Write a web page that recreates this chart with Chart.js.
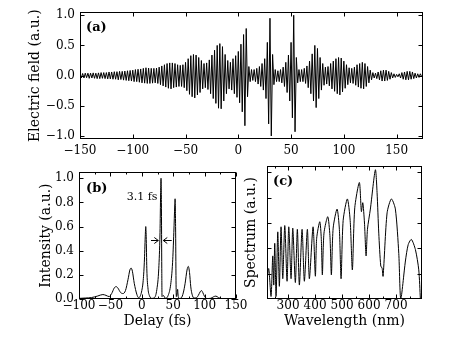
<!DOCTYPE html>
<html><head><meta charset="utf-8">
<script src="https://cdn.jsdelivr.net/npm/chart.js@4.4.1/dist/chart.umd.min.js"></script>
<style>
html,body{margin:0;padding:0;background:#fff;}
body{width:452px;height:339px;position:relative;overflow:hidden;}
canvas{position:absolute;}
</style></head><body>
<canvas id="ca" width="452" height="162" style="left:0;top:0"></canvas>
<canvas id="cb" width="250" height="179" style="left:0;top:160px"></canvas>
<canvas id="cc" width="217" height="179" style="left:235px;top:160px"></canvas>
<script>
// ---------- Panel (a): electric field, one value per half-cycle stroke ----------
const fieldStart = -150;   // fs
const fieldStep = 1.25;    // fs between successive stroke extremes
const fieldValues = [
 0.03,-0.04,0.035,-0.04,0.04,-0.035,0.04,-0.045,0.04,-0.04,0.045,-0.045,0.04,-0.05,0.045,-0.05,0.05,-0.045,0.05,-0.05,
 0.05,-0.055,0.06,-0.055,0.06,-0.06,0.065,-0.06,0.065,-0.07,0.07,-0.065,0.07,-0.075,0.075,-0.08,0.08,-0.085,0.085,-0.09,
 0.09,-0.1,0.1,-0.1,0.105,-0.11,0.11,-0.12,0.12,-0.125,0.13,-0.13,0.125,-0.13,0.12,-0.125,0.12,-0.12,0.125,-0.13,
 0.14,-0.15,0.16,-0.17,0.18,-0.19,0.2,-0.21,0.21,-0.22,0.21,-0.2,0.2,-0.19,0.18,-0.18,0.17,-0.18,0.18,-0.2,
 0.22,-0.25,0.28,-0.31,0.33,-0.35,0.35,-0.37,0.34,-0.32,0.3,-0.28,0.25,-0.22,0.2,-0.2,0.21,-0.23,0.26,-0.3,
 0.34,-0.38,0.42,-0.46,0.5,-0.54,0.53,-0.55,0.48,-0.42,0.35,-0.3,0.25,-0.22,0.22,-0.24,0.28,-0.3,0.33,-0.36,
 0.4,-0.45,0.52,-0.6,0.68,-0.83,0.78,-0.35,0.15,-0.1,0.1,-0.08,0.1,-0.1,0.12,-0.14,0.15,-0.18,0.2,-0.24,
 0.28,-0.38,0.55,-0.8,0.95,-1.0,0.35,-0.15,0.1,-0.1,0.08,-0.1,0.1,-0.12,0.14,-0.18,0.22,-0.28,0.34,-0.42,
 0.55,-0.7,1.0,-0.93,0.3,-0.12,0.1,-0.1,0.1,-0.1,0.12,-0.13,0.16,-0.2,0.24,-0.3,0.36,-0.42,0.5,-0.53,
 0.45,-0.38,0.3,-0.24,0.2,-0.16,0.14,-0.14,0.15,-0.17,0.2,-0.22,0.24,-0.26,0.28,-0.3,0.3,-0.32,0.29,-0.27,
 0.24,-0.21,0.18,-0.15,0.13,-0.12,0.12,-0.13,0.14,-0.16,0.18,-0.19,0.2,-0.21,0.22,-0.22,0.2,-0.18,0.15,-0.12,
 0.09,-0.07,0.05,-0.04,0.04,-0.05,0.06,-0.07,0.08,-0.09,0.09,-0.09,0.09,-0.08,0.07,-0.06,0.05,-0.04,0.03,-0.03,
 0.02,-0.02,0.03,-0.04,0.05,-0.06,0.06,-0.07,0.07,-0.07,0.07,-0.06,0.06,-0.05,0.04,-0.04,0.03,-0.03,0.03,-0.02,
 0.02
];
const fieldXTicks = [-150,-100,-50,0,50,100,150];
const fieldYTicks = [-1.0,-0.5,0.0,0.5,1.0];

// ---------- Panel (b): intensity vs delay ----------
const delayB = [
 -100,-90,-80,-70,-62,-57,-52,-48,-44,-41,
 -38,-34,-30,-26,-22,-19,-17,-15,-12,-8,
 -5,-2,0,2,4,5.5,6.3,7,8,10,
 12,16,20,24,27,29,30,30.6,31.2,31.8,
 32.2,34,38,42,46,49,51,52.5,53,53.8,
 54.5,55,56,57,58,60,63,66,69,72,
 74,76,78,80,83,87,90,93,95,97,
 100,104,110,114,118,122,127,135,150
];
const intensityB = [
 0.005,0.008,0.012,0.025,0.037,0.03,0.02,0.045,0.09,0.103,
 0.09,0.055,0.045,0.07,0.16,0.24,0.256,0.23,0.13,0.04,
 0.01,0.03,0.07,0.14,0.3,0.52,0.6,0.52,0.25,0.08,
 0.03,0.005,0.01,0.08,0.25,0.55,0.88,1.0,0.8,0.25,
 0.02,0.03,0.005,0.03,0.12,0.3,0.55,0.78,0.83,0.6,
 0.15,0.02,0.04,0.08,0.02,0.005,0.01,0.05,0.13,0.24,
 0.27,0.22,0.1,0.04,0.008,0.01,0.03,0.06,0.07,0.055,
 0.02,0.004,0.006,0.018,0.024,0.012,0.003,0.002,0.001
];
const delayXTicks = [-100,-50,0,50,100,150];
const delayXMinor = [-75,-25,25,75,125];
const intensityYTicks = [0.0,0.2,0.4,0.6,0.8,1.0];
const fwhmLabel = '3.1 fs';
const fwhmLabelAt = [0.5, 0.84];      // delay, intensity
const fwhmArrowY = 0.49;
const fwhmArrowLeft = [14.6, 26.3];   // from, to (fs)
const fwhmArrowRight = [47.6, 34.2];

// ---------- Panel (c): spectrum ----------
const wavelengthC = [
 222,228.5,237,243.3,247,250.7,255.6,261.9,267.8,274,
 280.4,287.8,296.3,302.6,311.1,317.4,327,334.4,341.9,351.9,
 360.4,371.5,378.9,392.6,401.1,406,417.4,423,427,433,
 447,455,460.4,467,481.5,490,496.3,504,519.6,530,
 538.1,547,564.1,571.5,576.7,583,588.9,594,604.8,623.3,
 629.6,635.9,643.3,648.1,651.9,666.7,682.6,697.4,710,717.4,
 734.6,745,756.7,771.6,784,790
];
const spectrumC = [
 0.15,0.24,0.02,0.34,0.11,0.44,0.02,0.53,0.10,0.57,
 0.16,0.58,0.14,0.57,0.16,0.56,0.13,0.55,0.11,0.55,
 0.14,0.55,0.16,0.57,0.18,0.48,0.61,0.48,0.19,0.52,
 0.65,0.5,0.19,0.56,0.71,0.55,0.16,0.62,0.79,0.62,
 0.23,0.72,0.92,0.69,0.76,0.6,0.34,0.55,0.71,1.02,
 0.84,0.52,0.26,0.245,0.18,0.68,0.79,0.71,0.36,0.0,
 0.30,0.43,0.47,0.39,0.23,0.0
];
const wavelengthXTicks = [300,400,500,600,700];
const wavelengthXMinor = [250,350,450,550,650,750];
const spectrumYTicks = [0.2,0.4,0.6,0.8,1.0];

// ---------- helpers ----------
const FONT = '"DejaVu Serif", serif';
function fmt(v, d) { return (v < 0 ? '\u2212' : '') + Math.abs(v).toFixed(d); }
function fixTicks(list) { return s => { s.ticks = list.map(v => ({ value: v })); }; }

const framePlugin = {
  id: 'frame',
  afterDatasetsDraw(chart, args, o) {
    const { ctx, chartArea: a } = chart;
    const xs = chart.scales.x, ys = chart.scales.y;
    const L = Math.round(a.left) + 0.5, R = Math.round(a.right) - 0.5;
    const T = Math.round(a.top) + 0.5, B = Math.round(a.bottom) - 0.5;
    ctx.save();
    ctx.strokeStyle = '#000'; ctx.lineWidth = 1;
    ctx.beginPath();
    const xt = (vals, len) => vals.forEach(v => {
      const p = Math.round(xs.getPixelForValue(v)) + 0.5;
      ctx.moveTo(p, B); ctx.lineTo(p, B - len); ctx.moveTo(p, T); ctx.lineTo(p, T + len);
    });
    const yt = (vals, len) => vals.forEach(v => {
      const p = Math.round(ys.getPixelForValue(v)) + 0.5;
      ctx.moveTo(L, p); ctx.lineTo(L + len, p); ctx.moveTo(R, p); ctx.lineTo(R - len, p);
    });
    xt(o.xMajor || [], 4); xt(o.xMinor || [], 2);
    yt(o.yMajor || [], 4); yt(o.yMinor || [], 2);
    ctx.stroke();
    ctx.strokeRect(L, T, R - L, B - T);
    ctx.fillStyle = '#000';
    ctx.font = 'bold 13px ' + FONT;
    ctx.textBaseline = 'middle'; ctx.textAlign = 'left';
    ctx.fillText(o.label, a.left + o.lx, a.top + o.ly);
    ctx.restore();
  }
};

const fwhmPlugin = {
  id: 'fwhm',
  afterDatasetsDraw(chart) {
    const { ctx } = chart;
    const xs = chart.scales.x, ys = chart.scales.y;
    const y = Math.round(ys.getPixelForValue(fwhmArrowY)) + 0.5;
    ctx.save();
    ctx.strokeStyle = '#000'; ctx.lineWidth = 1;
    const arrow = (pair) => {
      const x0 = xs.getPixelForValue(pair[0]), x1 = xs.getPixelForValue(pair[1]);
      const dir = x1 > x0 ? 1 : -1;
      ctx.beginPath();
      ctx.moveTo(x0, y); ctx.lineTo(x1, y);
      ctx.moveTo(x1 - dir * 4, y - 3); ctx.lineTo(x1, y); ctx.lineTo(x1 - dir * 4, y + 3);
      ctx.stroke();
    };
    arrow(fwhmArrowLeft); arrow(fwhmArrowRight);
    ctx.fillStyle = '#000';
    ctx.font = '11px ' + FONT;
    ctx.textAlign = 'center'; ctx.textBaseline = 'middle';
    ctx.fillText(fwhmLabel, xs.getPixelForValue(fwhmLabelAt[0]), ys.getPixelForValue(fwhmLabelAt[1]));
    ctx.restore();
  }
};

function baseScale(extra) {
  return Object.assign({
    grid: { display: false, drawTicks: false },
    border: { display: false },
  }, extra);
}
function tickFont() { return { family: FONT, size: 12 }; }
function titleFont() { return { family: FONT, size: 14 }; }

function baseOptions(padding, scales, frame) {
  return {
    responsive: false, animation: false, devicePixelRatio: 1,
    layout: { padding },
    plugins: { legend: { display: false }, tooltip: { enabled: false }, frame },
    elements: { point: { radius: 0 } },
    scales
  };
}

// ---------- Chart (a) ----------
new Chart(document.getElementById('ca'), {
  type: 'line',
  data: { datasets: [{
    data: fieldValues.map((v, i) => ({ x: fieldStart + i * fieldStep, y: v })),
    borderColor: '#000', borderWidth: 1, tension: 0, fill: false
  }]},
  options: baseOptions({ left: 0, top: 8, right: 29, bottom: 0 }, {
    x: baseScale({ type: 'linear', min: -150, max: 175,
      afterBuildTicks: fixTicks(fieldXTicks), afterFit: s => { s.height = 23; },
      ticks: { autoSkip: false, maxRotation: 0, padding: 5, color: '#000', font: tickFont(), callback: v => fmt(v, 0) } }),
    y: baseScale({ type: 'linear', min: -1.05, max: 1.05,
      afterBuildTicks: fixTicks(fieldYTicks), afterFit: s => { s.width = 80; },
      ticks: { autoSkip: false, padding: 5, color: '#000', font: tickFont(), callback: v => fmt(v, 1) },
      title: { display: true, text: 'Electric field (a.u.)', color: '#000', font: titleFont(), padding: { top: 26.6, bottom: 0 } } })
  }, { label: '(a)', lx: 6, ly: 15, xMajor: fieldXTicks, yMajor: fieldYTicks }),
  plugins: [framePlugin]
});

// ---------- Chart (b) ----------
new Chart(document.getElementById('cb'), {
  type: 'line',
  data: { datasets: [{
    data: delayB.map((d, i) => ({ x: d, y: intensityB[i] })),
    borderColor: '#000', borderWidth: 1, cubicInterpolationMode: 'monotone', fill: false
  }]},
  options: baseOptions({ left: 0, top: 6, right: 14, bottom: 0 }, {
    x: baseScale({ type: 'linear', min: -100, max: 150,
      afterBuildTicks: fixTicks(delayXTicks), afterFit: s => { s.height = 40; },
      ticks: { autoSkip: false, maxRotation: 0, padding: 0, color: '#000', font: tickFont(), callback: v => fmt(v, 0) },
      title: { display: true, text: 'Delay (fs)', color: '#000', font: titleFont(), padding: { top: 0, bottom: 8.9 } } }),
    y: baseScale({ type: 'linear', min: 0, max: 1.05,
      afterBuildTicks: fixTicks(intensityYTicks), afterFit: s => { s.width = 79; },
      ticks: { autoSkip: false, padding: 5, color: '#000', font: tickFont(), callback: v => fmt(v, 1) },
      title: { display: true, text: 'Intensity (a.u.)', color: '#000', font: titleFont(), padding: { top: 38.3, bottom: 0 } } })
  }, { label: '(b)', lx: 7, ly: 16, xMajor: delayXTicks, xMinor: delayXMinor, yMajor: intensityYTicks }),
  plugins: [framePlugin, fwhmPlugin]
});

// ---------- Chart (c) ----------
new Chart(document.getElementById('cc'), {
  type: 'line',
  data: { datasets: [{
    data: wavelengthC.map((w, i) => ({ x: w, y: spectrumC[i] })),
    borderColor: '#000', borderWidth: 1, tension: 0.25, fill: false
  }]},
  options: baseOptions({ left: 0, top: 6, right: 30, bottom: 0 }, {
    x: baseScale({ type: 'linear', min: 222, max: 796,
      afterBuildTicks: fixTicks(wavelengthXTicks), afterFit: s => { s.height = 40; },
      ticks: { autoSkip: false, maxRotation: 0, padding: 0, color: '#000', font: tickFont(), callback: v => fmt(v, 0) },
      title: { display: true, text: 'Wavelength (nm)', color: '#000', font: titleFont(), padding: { top: 0, bottom: 8.9 } } }),
    y: baseScale({ type: 'linear', min: 0, max: 1.05,
      afterBuildTicks: fixTicks(spectrumYTicks), afterFit: s => { s.width = 32; },
      ticks: { display: false },
      title: { display: true, text: 'Spectrum (a.u.)', color: '#000', font: titleFont(), padding: { top: 8.3, bottom: 0 } } })
  }, { label: '(c)', lx: 6, ly: 16, xMajor: wavelengthXTicks, xMinor: wavelengthXMinor, yMajor: spectrumYTicks }),
  plugins: [framePlugin]
});
</script>
</body></html>
